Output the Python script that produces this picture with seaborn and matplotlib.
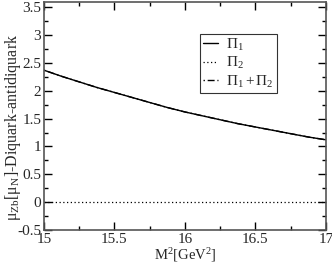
import matplotlib
matplotlib.use("Agg")
import matplotlib.pyplot as plt
import seaborn as sns
import numpy as np
import pandas as pd
from matplotlib.ticker import MultipleLocator

sns.set_theme(style="ticks")
plt.rcParams['font.family'] = ['Liberation Serif', 'DejaVu Serif']
plt.rcParams['mathtext.fontset'] = 'custom'
plt.rcParams['mathtext.rm'] = 'Liberation Serif'
plt.rcParams['mathtext.it'] = 'Liberation Serif:italic'

m2 = [15.0, 15.125, 15.25, 15.375, 15.5, 15.625, 15.75, 15.875, 16.0,
      16.125, 16.25, 16.375, 16.5, 16.625, 16.75, 16.875, 17.0]
pi1 = [2.37, 2.26, 2.16, 2.06, 1.97, 1.88, 1.79, 1.70, 1.62,
       1.55, 1.48, 1.41, 1.35, 1.29, 1.23, 1.17, 1.12]
pi2 = [0.0] * len(m2)
pi_sum = [a + b for a, b in zip(pi1, pi2)]

fig = plt.figure(figsize=(3.32, 2.63), dpi=100)
ax = fig.add_axes([0.1325, 0.1255, 0.849, 0.868])

sns.lineplot(x=m2, y=pi1, ax=ax, color='black', lw=1.0, linestyle='-', label=r'$\mathrm{\Pi_1}$')
sns.lineplot(x=m2, y=pi2, ax=ax, color='black', lw=0.9, linestyle=(0, (1, 2)), label=r'$\mathrm{\Pi_2}$')
sns.lineplot(x=m2, y=pi_sum, ax=ax, color='black', lw=1.0, linestyle=(0, (1, 2, 5, 2)), label=r'$\mathrm{\Pi_1 + \Pi_2}$')

ax.set_xlim(15, 17)
ax.set_ylim(-0.5, 3.6)
ax.xaxis.set_minor_locator(MultipleLocator(0.25))
ax.yaxis.set_minor_locator(MultipleLocator(0.25))
ax.set_xticks([15, 15.5, 16, 16.5, 17])
ax.set_xticklabels(['15', '15.5', '16', '16.5', '17'])
ax.set_yticks([-0.5, 0, 0.5, 1, 1.5, 2, 2.5, 3, 3.5])
ax.set_yticklabels(['-0.5', '0', '0.5', '1', '1.5', '2', '2.5', '3', '3.5'])
ax.tick_params(which='both', direction='in', top=True, right=True, color='black', width=1.0, labelsize=11, pad=2)
ax.tick_params(which='major', length=6)
ax.tick_params(which='minor', length=3)
for s in ax.spines.values():
    s.set_color('#555555')
    s.set_linewidth(1.2)

ax.set_xlabel(r'$\mathrm{M^2[GeV^2]}$', fontsize=10.5, labelpad=0)
ax.set_ylabel(r'$\mathrm{\mu_{Zb}[\mu_N]}$-Diquark-antidiquark', fontsize=11.5)
ax.yaxis.set_label_coords(-0.075, 0.45)

leg = ax.legend(loc='upper left', bbox_to_anchor=(0.553, 0.86), frameon=True, fancybox=False,
                edgecolor='black', fontsize=11, handlelength=1.0, handletextpad=0.5,
                labelspacing=0.15, borderpad=0.2, borderaxespad=0)
leg.get_frame().set_linewidth(0.8)

fig.savefig('out.png', dpi=100)
